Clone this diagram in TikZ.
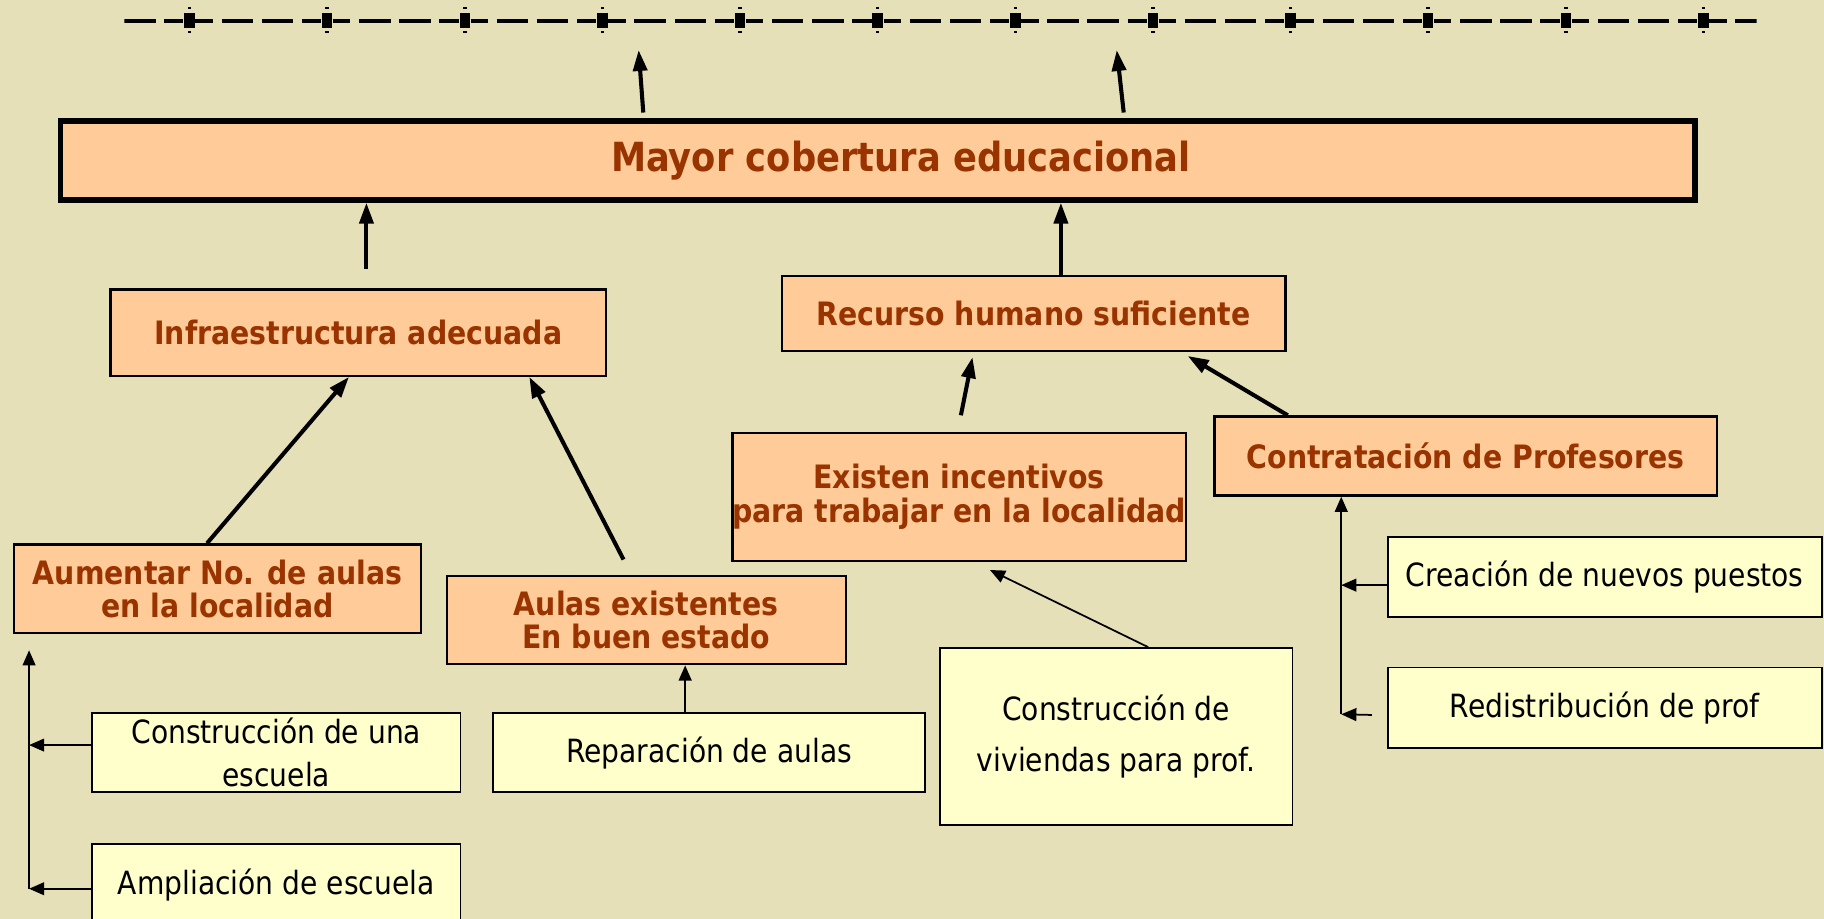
\documentclass[tikz,border=0pt]{standalone}
\usepackage{fontspec}
\setmainfont{DejaVu Sans}[FakeStretch=0.88]
\usetikzlibrary{arrows.meta,positioning}

\definecolor{paper}{RGB}{230,224,184}
\definecolor{peach}{RGB}{255,204,153}
\definecolor{cream}{RGB}{255,255,204}
\definecolor{rust}{RGB}{153,51,0}

\tikzset{
	goal/.style={rectangle,draw,line width=4.5pt,fill=peach,text=rust,inner sep=0pt,
		font=\bfseries\fontsize{34.5}{38}\selectfont},
	effect/.style={rectangle,draw,line width=2pt,fill=peach,text=rust,align=center,inner sep=0pt,
		font=\bfseries\fontsize{27.7}{28.5}\selectfont},
	action/.style={rectangle,draw,line width=1.4pt,fill=cream,align=center,inner sep=0pt,
		font=\fontsize{27.5}{37}\selectfont},
	bigarrow/.style={-{Triangle[length=18pt,width=12pt]},line width=3.5pt},
	smallarrow/.style={-{Triangle[length=13pt,width=11pt]},line width=1.5pt},
}

\begin{document}
\begin{tikzpicture}[x=1pt,y=-1pt]
	\fill[paper] (0,0) rectangle (1568,790);
	\useasboundingbox (0,0) rectangle (1568,790);
	\clip (0,0) rectangle (1568,790);

	% dashed line on top
	\begin{scope}
		\clip (107,0) rectangle (1510,40);
		\foreach \k in {0,...,12}
			\draw[line width=3pt,dash pattern=on 15pt off 7.5pt on 27pt off 7.5pt on 27pt off 7.5pt on 30pt]
				({49.7+118.3*\k},18) -- ({157.7+118.3*\k},18);
	\end{scope}
	\foreach \k in {0,...,11} {
		\fill ({158.5+118.3*\k},11) rectangle ++(9,13);
		\fill ({161.5+118.3*\k},6) rectangle ++(3,2);
		\fill ({161.5+118.3*\k},26.5) rectangle ++(3,2);
	}
	\coordinate (up1) at (549,43);
	\coordinate (up2) at (960,43);

	\node[goal,minimum width=1405pt,minimum height=68pt] (cobertura) at (754.5,138) {\hspace*{40pt}Mayor cobertura educacional};

	\node[effect,minimum width=426pt,minimum height=74pt] (infra) at (308,286) {Infraestructura adecuada};
	\node[effect,minimum width=433pt,minimum height=65pt] (recurso) at (888.5,269.5) {Recurso humano suficiente};
	\node[effect,minimum width=387pt,minimum height=110pt] (incentivos) at (824.5,427) {Existen incentivos\\para trabajar en la localidad};
	\node[effect,minimum width=432pt,minimum height=68pt] (contratacion) at (1260,392) {Contratación de Profesores};
	\node[effect,minimum width=350pt,minimum height=76pt] (aumentar) at (187,506) {Aumentar No. de aulas\\en la localidad};
	\node[effect,minimum width=343pt,minimum height=76pt] (aulas) at (555.5,533) {Aulas existentes\\En buen estado};

	\node[action,minimum width=317pt,minimum height=68pt] (construccion) at (237.5,647) {Construcción de una\\escuela};
	\node[action,minimum width=317pt,minimum height=70pt,below=43pt of construccion] (ampliacion) {Ampliación de escuela};
	\node[action,minimum width=371pt,minimum height=68pt] (reparacion) at (609.5,647) {Reparación de aulas};
	\node[action,minimum width=303pt,minimum height=152pt,font=\fontsize{27.5}{44}\selectfont] (viviendas) at (959.5,633) {Construcción de\\viviendas para prof.};
	\node[action,minimum width=373pt,minimum height=69pt] (creacion) at (1379.5,496) {Creación de nuevos puestos};
	\node[action,minimum width=373pt,minimum height=69pt,below=42pt of creacion] (redistribucion) {Redistribución de prof};

	\coordinate (ltop) at (25,559);
	\coordinate (lbot) at (25,764);
	\coordinate (rbot) at (1153,614);

	% thick arrows
	\draw[bigarrow] ([xshift=-201.5pt,yshift=5pt]cobertura.north) -- (up1);
	\draw[bigarrow] ([xshift=211.5pt,yshift=5pt]cobertura.north) -- (up2);
	\draw[bigarrow,shorten <=17pt] ([xshift=7pt]infra.north) -- ([xshift=7pt]infra.north |- cobertura.south);
	\draw[bigarrow] ([xshift=23.5pt]recurso.north) -- ([xshift=23.5pt]recurso.north |- cobertura.south);
	\draw[bigarrow] ([xshift=-9pt]aumentar.north) -- ([xshift=-8pt]infra.south);
	\draw[bigarrow] ([xshift=-19.5pt,yshift=13pt]aulas.north) -- ([xshift=147pt]infra.south);
	\draw[bigarrow] ([xshift=1.5pt,yshift=14pt]incentivos.north) -- ([xshift=-52.5pt,yshift=-4pt]recurso.south);
	\draw[bigarrow] ([xshift=-153pt]contratacion.north) -- ([xshift=-85pt,yshift=-3pt]recurso.south east);

	% thin arrows
	\draw[smallarrow] ([xshift=27.5pt]viviendas.north) -- ([xshift=26.5pt,yshift=-7pt]incentivos.south);
	\draw[smallarrow] ([xshift=-20.5pt]reparacion.north) -- ([xshift=33.5pt]aulas.south);
	\draw[smallarrow] ([yshift=6.5pt]construccion.west) -- ([yshift=6.5pt]construccion.west -| lbot);
	\draw[smallarrow] (ampliacion.west |- lbot) -- (lbot);
	\draw[smallarrow] (lbot) -- (ltop);
	\draw[smallarrow] ([yshift=-7pt]creacion.west) -- ([yshift=-7pt]creacion.west -| rbot);
	\draw[smallarrow,shorten <=13pt] ([yshift=-6.5pt]redistribucion.west) -- (rbot);
	\draw[smallarrow] (rbot) -- (rbot |- contratacion.south);
\end{tikzpicture}
\end{document}
